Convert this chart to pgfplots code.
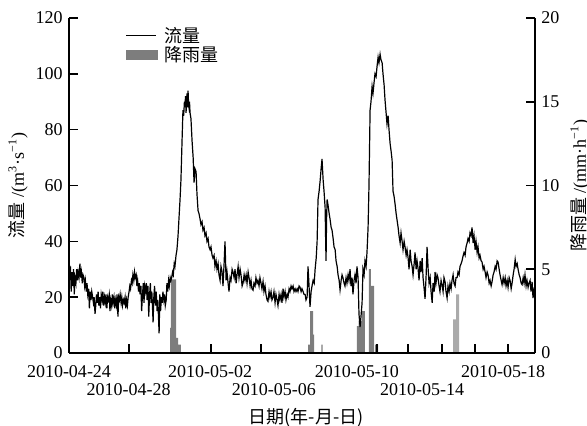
\documentclass[border=0pt]{standalone}
\usepackage{pgfplots}
\pgfplotsset{compat=1.18}
\usepackage{fontspec}
\setmainfont{Liberation Serif}
\newfontfamily\cjk{Noto Sans CJK SC}
\definecolor{rain}{RGB}{125,125,125}
\definecolor{rainlight}{RGB}{170,170,170}
\newcommand\rA[1]{\raisebox{-9pt}[0pt][0pt]{#1}}
\newcommand\rB[1]{\raisebox{-18pt}[0pt][0pt]{#1}}
\begin{document}
\fontsize{9}{11}\selectfont
\begin{tikzpicture}
\path[use as bounding box] (-34.5pt,-36.5pt) rectangle (259pt,176.5pt);
\pgfplotsset{base/.style={scale only axis, width=233pt, height=167.5pt,
  xmin=0, xmax=25.6, at={(0,0)}, anchor=south west,
  /pgf/number format/assume math mode=true,
  axis line style={-, line width=0.8pt},
  tick style={black, line width=0.8pt},
  major tick length=4.5pt, tick align=inside}}
% rainfall axis (right)
\begin{axis}[base, ymin=0, ymax=20, ytick={0,5,10,15,20},
  axis y line*=right, axis x line=none,
  ylabel={{\cjk 降雨量} /(mm·h\textsuperscript{−1})},
  every axis y label/.style={at={(axis description cs:1.0966,0.5)}, anchor=center, rotate=90}]
\addplot[const plot, fill=rain, draw=none] coordinates {
(5.55,1.5)(5.60,4.4)(5.88,0.9)(6.00,0.5)(6.15,0)
(13.13,0.5)(13.24,2.5)(13.41,1.1)(13.46,0)(13.87,0.5)(13.93,0)
(15.82,1.6)(15.91,1.9)(16.10,2.5)(16.26,0)(16.48,5.0)(16.59,4.0)(16.76,0)
(16.81,0.5)(16.87,0)(16.92,0.5)(16.98,0)} \closedcycle;
\addplot[const plot, fill=rainlight, draw=none] coordinates {
(21.10,2.0)(21.26,3.5)(21.43,0)} \closedcycle;
\end{axis}
% flow axis (left)
\begin{axis}[base, ymin=0, ymax=120, ytick={0,20,...,120},
  axis x line*=bottom, axis y line*=left,
  xtick={3.30,7.80,10.55,16.92,18.63,20.49,22.31,24.12},
  xticklabels={{},{},{},{},{},{},{},{}},
  major tick length=4.5pt,
  extra x ticks={0,3.27,7.75,11.26,15.82,19.40,23.85},
  extra x tick labels={{\rA{2010-04-24}},{\rB{2010-04-28}},{\rA{2010-05-02}},{\rB{2010-05-06}},{\rA{2010-05-10}},{\rB{2010-05-14}},{\rA{2010-05-18}}},
  extra x tick style={major tick length=0pt},
  xlabel={\cjk 日期(年-月-日)},
  every axis x label/.style={at={(axis description cs:0.5086,-0.1463)}, anchor=north},
  ylabel={{\cjk 流量} /(m\textsuperscript{3}·s\textsuperscript{−1})},
  every axis y label/.style={at={(axis description cs:-0.1094,0.5)}, anchor=center, rotate=90},
  legend style={at={(axis description cs:0.107,0.99)}, anchor=north west, draw=none, fill=none,
    nodes={inner sep=1pt, text depth=0pt}, column sep=2.5pt, row sep=0pt},
  legend cell align=left]
\addplot[black, line width=0.6pt,
  legend image code/.code={\draw[black, line width=0.8pt] (0pt,0pt) -- (15pt,0pt);}] coordinates {
(0.00,37)(0.04,27)(0.08,31)(0.12,22)(0.16,29)(0.20,24)(0.25,30)(0.29,21)(0.33,27)(0.38,25)(0.42,30)(0.46,26)(0.50,29)(0.55,27)(0.60,32)(0.64,27)(0.68,29)(0.73,25)(0.77,28)(0.82,27)(0.86,24)(0.90,26)(0.95,22)(0.99,25)(1.03,21)(1.08,23)(1.12,16)(1.16,22)(1.21,19)(1.25,22)(1.30,20)(1.34,18)(1.38,20)(1.43,14)(1.47,17)(1.51,21)(1.56,18)(1.60,22)(1.64,17)(1.69,20)(1.73,16)(1.77,21)(1.82,19)(1.86,22)(1.90,17)(1.95,20)(1.99,18)(2.03,21)(2.08,16)(2.12,20)(2.16,19)(2.21,21)(2.25,15)(2.29,19)(2.34,17)(2.38,21)(2.42,18)(2.47,20)(2.51,16)(2.55,19)(2.60,17)(2.64,21)(2.69,13)(2.73,20)(2.77,19)(2.81,21)(2.86,18)(2.90,20)(2.94,17)(2.99,19)(3.03,18)(3.08,20)(3.12,16)(3.16,19)(3.21,17)(3.25,20)(3.30,22)(3.34,24)(3.38,23)(3.43,26)(3.47,25)(3.51,28)(3.56,26)(3.60,29)(3.64,27)(3.69,28)(3.73,24)(3.77,26)(3.82,22)(3.86,25)(3.90,21)(3.95,24)(3.99,15)(4.03,20)(4.08,25)(4.12,18)(4.16,24)(4.21,22)(4.25,25)(4.29,19)(4.34,24)(4.38,13)(4.42,20)(4.47,25)(4.51,18)(4.55,22)(4.62,11)(4.66,20)(4.70,24)(4.75,17)(4.79,22)(4.84,15)(4.88,19)(4.95,7)(4.99,21)(5.03,15)(5.08,20)(5.12,18)(5.16,22)(5.21,19)(5.25,21)(5.29,17)(5.34,19)(5.38,25)(5.42,22)(5.47,26)(5.51,24)(5.56,27)(5.60,26)(5.64,27)(5.69,29)(5.73,28)(5.78,32)(5.82,31)(5.88,35)(5.93,37)(5.99,42)(6.04,48)(6.10,55)(6.15,62)(6.21,76)(6.26,87)(6.30,85)(6.34,90)(6.37,88)(6.40,92)(6.43,86)(6.46,90)(6.48,93)(6.51,88)(6.54,94)(6.57,89)(6.59,88)(6.62,90)(6.65,86)(6.70,84)(6.76,76)(6.82,70)(6.87,61)(6.92,66)(6.98,65)(7.03,57)(7.09,51)(7.14,50)(7.20,48)(7.25,46)(7.31,47)(7.36,44)(7.42,45)(7.47,42)(7.53,43)(7.58,40)(7.64,41)(7.69,38)(7.75,37)(7.80,38)(7.86,35)(7.91,34)(7.97,35)(8.02,31)(8.08,33)(8.13,30)(8.19,32)(8.24,28)(8.30,26)(8.35,31)(8.41,29)(8.46,24)(8.52,32)(8.57,40)(8.60,33)(8.63,26)(8.68,29)(8.74,25)(8.79,22)(8.85,27)(8.90,26)(8.96,30)(9.01,29)(9.07,27)(9.12,30)(9.18,25)(9.23,28)(9.29,31)(9.34,27)(9.40,30)(9.45,28)(9.51,24)(9.56,25)(9.62,28)(9.67,26)(9.73,28)(9.78,25)(9.84,29)(9.89,27)(9.95,24)(10.00,26)(10.05,23)(10.11,22.5)(10.16,25)(10.22,24)(10.27,27)(10.33,25)(10.38,26)(10.44,24)(10.49,27)(10.55,25)(10.60,23)(10.66,25.6)(10.71,22)(10.77,24)(10.82,21)(10.88,19)(10.93,18.5)(10.99,22)(11.04,20)(11.10,22)(11.15,19)(11.21,20)(11.26,22)(11.32,18)(11.37,21)(11.43,19)(11.48,17)(11.54,21)(11.59,19)(11.65,21)(11.70,18)(11.76,23)(11.81,20)(11.87,22)(11.92,19)(11.98,21)(12.03,20)(12.09,23)(12.14,22)(12.20,24)(12.25,23)(12.31,24)(12.36,22)(12.42,23)(12.47,22)(12.53,23)(12.58,22)(12.64,24)(12.69,23.6)(12.75,22)(12.80,23)(12.86,22)(12.91,21)(12.97,21)(13.02,19)(13.08,20)(13.13,31)(13.18,25)(13.24,16.5)(13.30,22)(13.35,24)(13.41,26)(13.47,25)(13.52,30)(13.58,34)(13.63,40)(13.68,55)(13.74,58)(13.80,62)(13.85,66)(13.90,69.5)(13.96,62)(14.01,58)(14.07,52)(14.10,40)(14.12,33)(14.15,48)(14.18,55)(14.23,53)(14.29,50)(14.34,48)(14.40,45)(14.45,44)(14.51,41)(14.56,38)(14.62,37)(14.67,33)(14.73,31)(14.78,28)(14.84,26)(14.89,22.6)(14.95,26)(15.00,28)(15.05,27)(15.11,25)(15.16,24)(15.22,27)(15.27,25)(15.33,28)(15.38,26)(15.44,30)(15.49,24)(15.55,27)(15.60,21)(15.66,26)(15.71,28)(15.77,25)(15.82,31)(15.88,27)(15.93,14)(15.99,9.3)(16.04,13)(16.10,18)(16.15,30)(16.21,28)(16.26,33)(16.32,31)(16.37,36)(16.43,45)(16.48,60)(16.54,87)(16.59,90)(16.65,95.5)(16.70,93)(16.76,97)(16.81,100)(16.87,99)(16.92,102.5)(16.98,106)(17.03,104)(17.09,107)(17.14,105)(17.20,104)(17.25,100)(17.31,96)(17.36,90.7)(17.42,86)(17.47,82)(17.53,85)(17.58,80)(17.64,75)(17.70,72)(17.75,69)(17.80,58)(17.86,56)(17.91,53.5)(17.97,50)(18.02,47.7)(18.08,45)(18.13,42)(18.19,39.4)(18.24,43)(18.30,40)(18.35,37)(18.41,40)(18.46,38)(18.52,35)(18.57,37)(18.63,34)(18.68,30)(18.74,37)(18.79,33)(18.85,31)(18.90,28)(18.96,32)(19.01,36)(19.07,30)(19.12,33)(19.18,30)(19.23,26)(19.29,33)(19.34,29)(19.40,34)(19.45,27)(19.51,23)(19.56,19.4)(19.62,28)(19.67,38)(19.73,30)(19.78,25)(19.84,27)(19.89,22)(19.95,18)(20.00,25)(20.06,22)(20.11,29)(20.16,25)(20.22,28)(20.27,27)(20.33,24)(20.38,22)(20.44,26)(20.49,24.5)(20.55,22)(20.60,27)(20.66,25.5)(20.71,22)(20.77,19.7)(20.82,24)(20.88,22)(20.93,25)(20.99,23)(21.04,26)(21.10,28)(21.15,25)(21.21,24)(21.26,27)(21.32,27)(21.37,29)(21.43,28)(21.48,31)(21.54,32)(21.59,33)(21.65,34.8)(21.70,36)(21.76,35)(21.81,38)(21.87,39.4)(21.92,41)(21.98,40)(22.03,43)(22.09,42)(22.14,45)(22.20,39.4)(22.25,42)(22.31,37)(22.36,40)(22.42,36)(22.47,38)(22.53,34)(22.58,35)(22.64,33)(22.69,32.6)(22.75,30)(22.80,31)(22.86,29)(22.91,27)(22.97,29)(23.02,28)(23.08,25)(23.13,26)(23.19,24)(23.24,25.5)(23.30,28)(23.35,29)(23.41,31)(23.46,30)(23.52,33)(23.57,32.6)(23.63,30)(23.68,28)(23.74,26)(23.79,24.5)(23.85,27)(23.90,25)(23.96,27)(24.01,24)(24.07,26)(24.12,23.5)(24.18,27)(24.23,26)(24.29,23)(24.34,25)(24.40,28)(24.45,30)(24.51,33.5)(24.56,31)(24.62,32)(24.67,30)(24.73,28)(24.78,27)(24.84,25)(24.89,24.5)(24.95,27)(25.00,25)(25.05,28)(25.11,24)(25.16,26)(25.22,23.5)(25.27,25)(25.33,26)(25.38,22)(25.44,25.5)(25.49,19.7)(25.55,23)(25.60,24)};
\addlegendentry{\cjk 流量}
\addlegendimage{legend image code/.code={\fill[rain] (0pt,-2.25pt) rectangle (15.5pt,2.25pt);}}
\addlegendentry{\cjk 降雨量}
\end{axis}
\end{tikzpicture}
\end{document}
